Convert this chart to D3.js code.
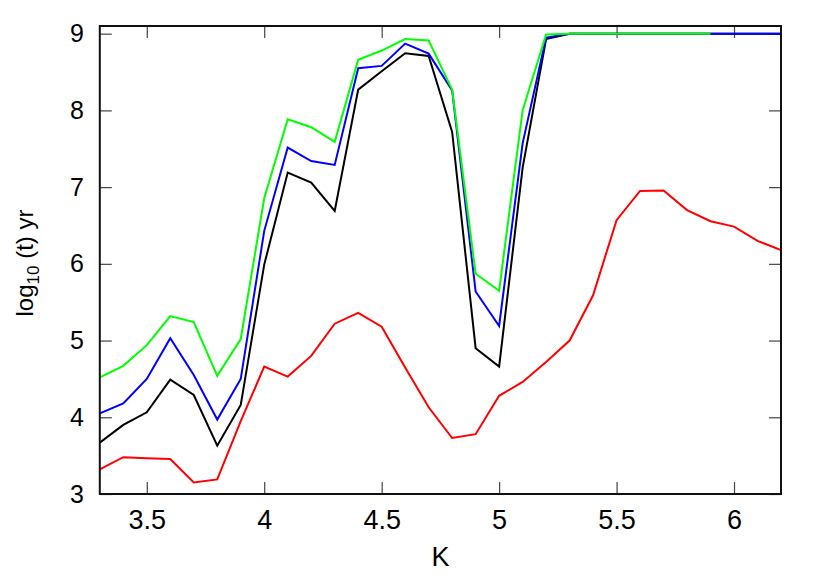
<!DOCTYPE html>
<html><head><meta charset="utf-8">
<script src="https://cdn.jsdelivr.net/npm/d3@7"></script>
<style>body{margin:0;background:#fff}svg{display:block}text{font-family:"Liberation Sans",Arial,sans-serif}</style>
</head><body><div id="chart"></div>
<script>
const K = [3.3,3.4,3.5,3.6,3.7,3.8,3.9,4.0,4.1,4.2,4.3,4.4,4.5,4.6,4.7,4.8,4.9,5.0,5.1,5.2,5.3,5.4,5.5,5.6,5.7,5.8,5.9,6.0,6.1,6.2];
const redVals   = [3.32,3.48,3.465,3.456,3.15,3.19,3.95,4.66,4.53,4.80,5.22,5.36,5.18,4.65,4.13,3.73,3.78,4.28,4.46,4.72,5.0,5.59,6.57,6.95,6.955,6.70,6.555,6.485,6.30,6.18];
const blackVals = [3.67,3.90,4.065,4.49,4.29,3.63,4.16,5.99,7.19,7.06,6.69,8.27,8.51,8.745,8.71,7.72,4.90,4.66,7.25,8.93,9,9,9,9,9,9,9,9,9,9];
const blueVals  = [4.05,4.18,4.50,5.03,4.55,3.97,4.50,6.43,7.515,7.34,7.29,8.55,8.58,8.87,8.74,8.26,5.64,5.19,7.57,8.95,9,9,9,9,9,9,9,9,9,9];
const greenVals = [4.52,4.67,4.94,5.32,5.24,4.54,5.02,6.855,7.885,7.78,7.59,8.66,8.78,8.93,8.91,8.27,5.87,5.65,8.0,8.99,9,9,9,9,9,9,9];
const xTicks = [3.5,4,4.5,5,5.5,6];
const yTicks = [3,4,5,6,7,8,9];

const W = 830, H = 581;
const L = 99.8, R = 781, T = 26, B = 494;
const svg = d3.select("#chart").append("svg").attr("width", W).attr("height", H);
const x = d3.scaleLinear().domain([3.3, 6.2]).range([L, R]);
const y = d3.scaleLinear().domain([3, 9.1]).range([B, T]);

const tickLen = 12;
const gB = svg.append("g").attr("transform", `translate(0,${B})`)
  .call(d3.axisBottom(x).tickValues(xTicks).tickSizeInner(-tickLen).tickSizeOuter(0).tickPadding(16).tickFormat(d3.format("")));
const gT = svg.append("g").attr("transform", `translate(0,${T})`)
  .call(d3.axisTop(x).tickValues(xTicks).tickSizeInner(-tickLen).tickSizeOuter(0).tickFormat(""));
const gL = svg.append("g").attr("transform", `translate(${L},0)`)
  .call(d3.axisLeft(y).tickValues(yTicks).tickSizeInner(-tickLen).tickSizeOuter(0).tickPadding(16).tickFormat(d3.format("")));
const gR = svg.append("g").attr("transform", `translate(${R},0)`)
  .call(d3.axisRight(y).tickValues(yTicks).tickSizeInner(-tickLen).tickSizeOuter(0).tickFormat(""));
[gB,gT,gL,gR].forEach(g => {
  g.select(".domain").remove();
  g.selectAll(".tick line").attr("stroke", "#444").attr("stroke-width", 1.2);
  g.selectAll("text").attr("fill", "#000").attr("font-family", '"Liberation Sans",Arial,sans-serif');
});
gB.selectAll("text").attr("font-size", 27);
gL.selectAll("text").attr("font-size", 25);

const series = [
  {vals: redVals, color: "#ff0000"},
  {vals: blackVals, color: "#000000"},
  {vals: blueVals, color: "#0000ff"},
  {vals: greenVals, color: "#00ff00"}
];
const line = d3.line().x(d => x(d[0])).y(d => y(d[1]));
svg.append("clipPath").attr("id","clip").append("rect").attr("x",L).attr("y",T).attr("width",R-L).attr("height",B-T);
series.forEach(s => {
  svg.append("path").datum(s.vals.map((v,i)=>[K[i],v]))
    .attr("d", line).attr("fill","none").attr("stroke", s.color).attr("stroke-width", 2)
    .attr("clip-path","url(#clip)");
});

svg.append("rect").attr("x",L).attr("y",T).attr("width",R-L).attr("height",B-T)
  .attr("fill","none").attr("stroke","#111").attr("stroke-width",2);

svg.append("text").attr("x",(L+R)/2).attr("y",566).attr("text-anchor","middle").attr("font-size",27).text("K");
const yt = svg.append("text").attr("transform","translate(33,263) rotate(-90)").attr("text-anchor","middle").attr("font-size",24);
yt.append("tspan").text("log");
yt.append("tspan").attr("font-size",17).attr("dy",6).text("10");
yt.append("tspan").attr("dy",-6).text(" (t) yr");
</script></body></html>
